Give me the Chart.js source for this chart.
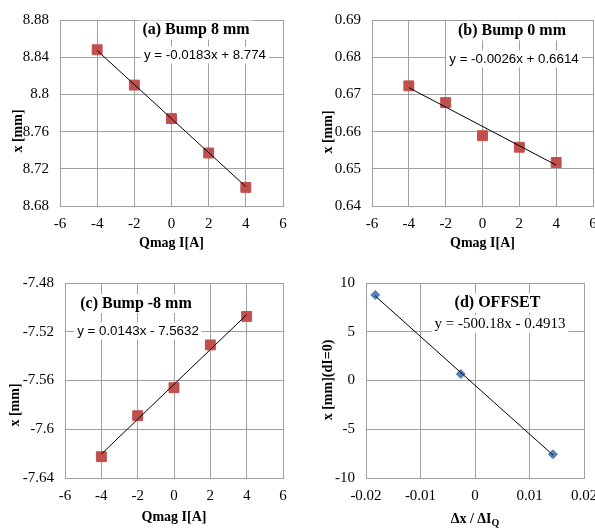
<!DOCTYPE html>
<html>
<head>
<meta charset="utf-8">
<script src="https://cdn.jsdelivr.net/npm/chart.js@4/dist/chart.umd.min.js"></script>
<style>
  body { margin: 0; background: #fff; width: 595px; height: 528px; overflow: hidden; position: relative; }
  canvas { position: absolute; }
</style>
</head>
<body>
<canvas id="a" width="297" height="262" style="left:0;top:0"></canvas>
<canvas id="b" width="310" height="262" style="left:297px;top:0"></canvas>
<canvas id="c" width="297" height="266" style="left:0;top:262px"></canvas>
<canvas id="d" width="310" height="266" style="left:297px;top:262px"></canvas>
<script>
// quadrupole current steps [A]
const current = [-4, -2, 0, 2, 4];

// measured beam position x [mm] per bump setting
const bump8  = [8.848, 8.810, 8.774, 8.737, 8.700];
const bump0  = [0.6723, 0.6678, 0.6589, 0.6558, 0.6517];
const bumpM8 = [-7.6225, -7.5889, -7.5659, -7.5308, -7.5074];

// linear fits x = m*I + b for each bump
const slopes  = [-0.0183, -0.0026, 0.0143];
const offsets = [8.774, 0.6614, -7.5632];

// fit of offsets vs slopes
const offsetFit = [-500.18, -0.4913];

const SERIF = "'Liberation Serif', 'Times New Roman', serif";
const SANS = "'Liberation Sans', Arial, sans-serif";
const GRID = '#a0a0a0';

function fmtTick(v) { return String(+v.toFixed(4)); }

function eqText(m, b) {
  return 'y = ' + m + 'x ' + (b < 0 ? '- ' : '+ ') + Math.abs(b);
}

function fitLine(m, b, x0, x1) {
  return [{x: x0, y: m * x0 + b}, {x: x1, y: m * x1 + b}];
}

// text boxes, axis titles
function textLayer(o) {
  return {
    id: 'texts',
    beforeDatasetsDraw(chart) {
      const ctx = chart.ctx;
      ctx.save();
      ctx.textAlign = 'center';
      ctx.textBaseline = 'middle';
      o.notes.forEach(n => {
        ctx.font = n.font;
        const w = ctx.measureText(n.text).width;
        ctx.fillStyle = '#fff';
        ctx.fillRect(n.x - w / 2 - 3, n.y - n.h / 2, w + 6, n.h);
        ctx.fillStyle = '#000';
        ctx.fillText(n.text, n.x, n.y);
      });
      ctx.restore();
    },
    afterDraw(chart) {
      const ctx = chart.ctx;
      const a = chart.chartArea;
      const big = 'bold 14px ' + SERIF, small = 'bold 10px ' + SERIF;
      ctx.save();
      ctx.fillStyle = '#000';
      ctx.textBaseline = 'middle';
      ctx.font = big;
      // x title
      const cx = (a.left + a.right) / 2;
      if (o.xSub) {
        ctx.textAlign = 'left';
        const w1 = ctx.measureText(o.xTitle).width;
        ctx.font = small;
        const w2 = ctx.measureText(o.xSub).width;
        const x0 = cx - (w1 + w2) / 2;
        ctx.font = big;
        ctx.fillText(o.xTitle, x0, o.xTitleY);
        ctx.font = small;
        ctx.fillText(o.xSub, x0 + w1, o.xTitleY + 4);
      } else {
        ctx.textAlign = 'center';
        ctx.fillText(o.xTitle, cx, o.xTitleY);
      }
      // y title
      ctx.font = big;
      ctx.textAlign = 'center';
      ctx.translate(o.yTitlePos[0], o.yTitlePos[1]);
      ctx.rotate(-Math.PI / 2);
      ctx.fillText(o.yTitle, 0, 0);
      ctx.restore();
    }
  };
}

function panel(id, o) {
  const cv = document.getElementById(id);
  const W = cv.width, H = cv.height;
  const [L, T, R, B] = o.area;
  const tickFont = {family: SERIF, size: 15};
  new Chart(cv, {
    type: 'scatter',
    data: {
      datasets: [
        {
          data: o.fit,
          showLine: true,
          borderColor: '#000',
          borderWidth: 1,
          pointRadius: 0
        },
        {
          data: o.points,
          pointStyle: o.marker,
          pointRadius: o.radius,
          backgroundColor: o.color,
          borderColor: o.color,
          borderWidth: 1
        }
      ]
    },
    options: {
      responsive: false,
      animation: false,
      layout: {padding: {left: 0, top: T, right: W - R, bottom: 0}},
      plugins: {legend: {display: false}, tooltip: {enabled: false}},
      scales: {
        x: {
          type: 'linear',
          min: o.x[0], max: o.x[1],
          ticks: {stepSize: o.x[2], callback: fmtTick, font: tickFont, color: '#000', padding: 9},
          grid: {color: GRID, drawTicks: false},
          border: {color: GRID},
          afterFit(s) { s.height = H - B; }
        },
        y: {
          min: o.y[0], max: o.y[1],
          ticks: {stepSize: o.y[2], callback: fmtTick, font: tickFont, color: '#000', padding: 11},
          grid: {color: GRID, drawTicks: false},
          border: {color: GRID},
          afterFit(s) { s.width = L; }
        }
      }
    },
    plugins: [textLayer(o)]
  });
}

const xy = (xs, ys) => xs.map((x, i) => ({x: x, y: ys[i]}));
const titleFont = 'bold 16px ' + SERIF;
const eqFont = '13.3px ' + SANS;

panel('a', {
  area: [60, 11, 283, 206],
  x: [-6, 6, 2], y: [8.68, 8.88, 0.04],
  points: xy(current, bump8),
  fit: fitLine(slopes[0], offsets[0], -4, 4),
  marker: 'rect', radius: 7, color: '#c0504d',
  notes: [
    {text: '(a) Bump 8 mm', x: 196, y: 30, h: 19, font: titleFont},
    {text: eqText(slopes[0], offsets[0]), x: 205, y: 55, h: 17, font: eqFont}
  ],
  xTitle: 'Qmag I[A]', xTitleY: 243,
  yTitle: 'x [mm]', yTitlePos: [18, 131]
});

panel('b', {
  area: [75, 10, 296, 206],
  x: [-6, 6, 2], y: [0.64, 0.69, 0.01],
  points: xy(current, bump0),
  fit: fitLine(slopes[1], offsets[1], -4, 4),
  marker: 'rect', radius: 7, color: '#c0504d',
  notes: [
    {text: '(b) Bump 0 mm', x: 215, y: 31, h: 19, font: titleFont},
    {text: eqText(slopes[1], offsets[1]), x: 217, y: 59, h: 17, font: eqFont}
  ],
  xTitle: 'Qmag I[A]', xTitleY: 243,
  yTitle: 'x [mm]', yTitlePos: [31, 132]
});

panel('c', {
  area: [65, 21, 283, 216],
  x: [-6, 6, 2], y: [-7.64, -7.48, 0.04],
  points: xy(current, bumpM8),
  fit: fitLine(slopes[2], offsets[2], -4, 4),
  marker: 'rect', radius: 7, color: '#c0504d',
  notes: [
    {text: '(c) Bump -8 mm', x: 136, y: 41.5, h: 19, font: titleFont},
    {text: eqText(slopes[2], offsets[2]), x: 138, y: 69, h: 17, font: eqFont}
  ],
  xTitle: 'Qmag I[A]', xTitleY: 255,
  yTitle: 'x [mm]', yTitlePos: [15, 143]
});

panel('d', {
  area: [69, 21, 287, 216],
  x: [-0.02, 0.02, 0.01], y: [-10, 10, 5],
  points: xy(slopes, offsets),
  fit: fitLine(offsetFit[0], offsetFit[1], slopes[0], slopes[2]),
  marker: 'rectRot', radius: 4.5, color: '#4f81bd',
  notes: [
    {text: '(d) OFFSET', x: 200.5, y: 41, h: 19, font: titleFont},
    {text: eqText(offsetFit[0], offsetFit[1]), x: 203, y: 62, h: 18, font: '15px ' + SERIF}
  ],
  xTitle: '\u0394x / \u0394I', xSub: 'Q', xTitleY: 257,
  yTitle: 'x [mm](dI=0)', yTitlePos: [31, 118]
});
</script>
</body>
</html>
